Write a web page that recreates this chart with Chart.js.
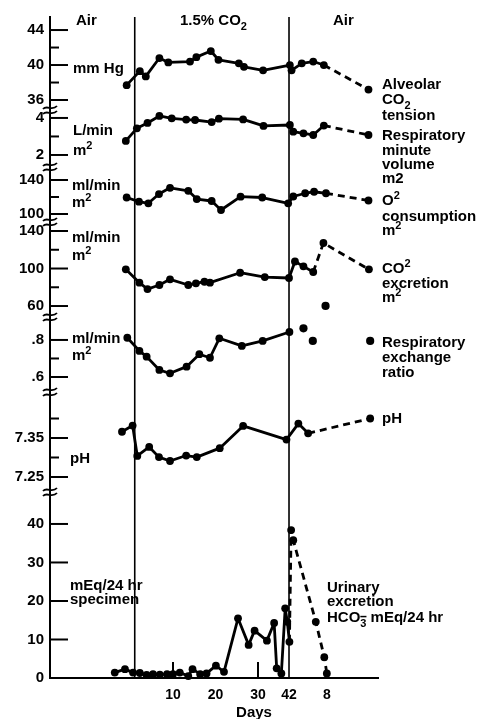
<!DOCTYPE html>
<html><head><meta charset="utf-8">
<script src="https://cdn.jsdelivr.net/npm/chart.js@4/dist/chart.umd.min.js"></script>
<style>html,body{margin:0;padding:0;background:#fff}canvas{display:block}</style>
</head><body>
<canvas id="c" width="477" height="719"></canvas>
<script>
// ---- Data (x = position on the Days axis) ----
const phaseBoundaries = [1, 37.3];
const xTickValues = [10, 20, 30, 37.3, 46.2];
const xTickLabels = ['10', '20', '30', '42', '8'];
const xMarkTicks = [10, 30];

// Alveolar CO2 tension (mm Hg)
const alvX = [-0.9, 2.2, 3.6, 6.8, 8.9, 14.0, 15.5, 18.9, 20.7, 25.5, 26.7, 31.2, 37.5, 37.9, 40.3, 43.0, 45.5, 56.0];
const alvY = [37.7, 39.3, 38.7, 40.8, 40.3, 40.4, 40.9, 41.6, 40.6, 40.2, 39.8, 39.4, 40.0, 39.4, 40.2, 40.4, 40.0, 37.2];
const alvTicks = [36, 38, 40, 42, 44];
const alvTickLabels = ['36', '', '40', '', '44'];

// Respiratory minute volume (L/min m2)
const volX = [-1.1, 1.5, 4.0, 6.8, 9.7, 13.1, 15.2, 19.1, 20.8, 26.5, 31.3, 37.5, 38.3, 40.7, 43.0, 45.5, 56.0];
const volY = [2.76, 3.44, 3.73, 4.11, 3.98, 3.91, 3.89, 3.78, 3.96, 3.92, 3.57, 3.62, 3.26, 3.17, 3.08, 3.59, 3.08];
const volTicks = [2, 3, 4];
const volTickLabels = ['2', '', '4'];

// O2 consumption (ml/min m2)
const o2X = [-0.9, 2.0, 4.2, 6.7, 9.3, 13.6, 15.6, 19.1, 21.3, 25.9, 31.0, 37.1, 38.3, 41.1, 43.2, 46.0, 56.0];
const o2Y = [119.4, 114.5, 112.6, 123.5, 130.8, 127.3, 117.6, 115.3, 104.7, 120.4, 119.4, 112.6, 120.6, 124.4, 126.2, 124.4, 115.9];
const o2Ticks = [100, 120, 140];
const o2TickLabels = ['100', '', '140'];

// CO2 excretion (ml/min m2)
const co2X = [-1.1, 2.1, 4.0, 6.8, 9.3, 13.6, 15.4, 17.4, 18.7, 25.8, 31.6, 37.3, 38.7, 40.7, 43.0, 45.4, 56.1];
const co2Y = [99.1, 84.9, 78.1, 82.4, 88.5, 82.4, 84.2, 85.9, 84.9, 95.5, 90.9, 89.9, 107.5, 102.3, 96.3, 127.2, 99.1];
const co2Ticks = [60, 80, 100, 120, 140];
const co2TickLabels = ['60', '', '100', '', '140'];

// Respiratory exchange ratio
const rX = [-0.75, 2.1, 3.8, 6.8, 9.3, 13.2, 16.2, 18.7, 20.9, 26.2, 31.1, 37.4];
const rY = [0.812, 0.741, 0.710, 0.638, 0.620, 0.656, 0.723, 0.704, 0.809, 0.768, 0.795, 0.843];
const rDotX = [40.7, 42.9, 45.9, 56.4];
const rDotY = [0.863, 0.795, 0.984, 0.795];
const rTicks = [0.6, 0.7, 0.8];
const rTickLabels = ['.6', '', '.8'];

// pH
const phX = [-2.0, 0.5, 1.6, 4.4, 6.7, 9.3, 13.1, 15.6, 21.0, 26.5, 36.7, 39.5, 41.8, 56.4];
const phY = [7.366, 7.382, 7.304, 7.327, 7.301, 7.291, 7.305, 7.301, 7.324, 7.381, 7.346, 7.387, 7.362, 7.400];
const phTicks = [7.25, 7.30, 7.35, 7.40];
const phTickLabels = ['7.25', '', '7.35', ''];

// Urinary excretion HCO3 (mEq/24 hr)
const urX = [-3.7, -1.3, 0.6, 2.2, 3.8, 5.3, 6.9, 8.6, 10.0, 11.6, 13.6, 14.6, 16.4, 17.9, 20.1, 22.0, 25.3, 27.8, 29.2, 32.1, 33.8, 34.4, 35.5, 36.4, 36.9, 37.4, 37.8, 38.3, 43.6, 45.6, 46.2];
const urY = [1.4, 2.3, 1.4, 1.3, 0.8, 1.0, 0.9, 1.0, 1.0, 1.4, 0.5, 2.3, 1.0, 1.2, 3.2, 1.6, 15.5, 8.6, 12.3, 9.7, 14.3, 2.5, 1.2, 18.1, 14.6, 9.4, 38.4, 35.8, 14.6, 5.4, 1.2];
const urTicks = [0, 10, 20, 30, 40];
const urTickLabels = ['0', '10', '20', '30', '40'];

// ---- Rendering ----
const FONT = '"Liberation Sans", Arial, Helvetica, sans-serif';
Chart.defaults.font.family = FONT;

function series(xs, ys, axis, dashFrom, extra) {
  return Object.assign({
    type: 'line',
    data: xs.map((x, i) => ({ x: x, y: ys[i] })),
    yAxisID: axis,
    borderColor: '#000', backgroundColor: '#000', borderWidth: 2.8,
    borderJoinStyle: 'round', borderCapStyle: 'butt',
    pointRadius: 3.9, pointHoverRadius: 3.9, pointBackgroundColor: '#000', pointBorderWidth: 0,
    tension: 0, fill: false, clip: false,
    segment: { borderDash: c => (dashFrom != null && c.p0DataIndex >= dashFrom) ? [7, 5] : undefined }
  }, extra || {});
}

function yScale(min, max, weight, tickVals, tickLabels) {
  return {
    type: 'linear', position: 'left', stack: 'panels', stackWeight: weight, min: min, max: max,
    afterBuildTicks: s => { s.ticks = tickVals.map(v => ({ value: v })); },
    ticks: { autoSkip: false, callback: (v, i) => tickLabels[i], font: { size: 15, weight: 'bold' }, color: '#000', padding: 6 },
    grid: { display: false, drawTicks: false },
    border: { display: true, color: '#000', width: 2 },
    afterFit: s => { s.width = 50; }
  };
}

function setFont(ctx, size) { ctx.font = 'bold ' + size + 'px ' + FONT; }
function drawRich(ctx, x, y, parts, size, align) {
  const pieces = parts.map(p => typeof p === 'string' ? [p, 'n'] : p);
  let total = 0;
  for (const [t, k] of pieces) { setFont(ctx, k === 'n' ? size : Math.round(size * 0.7)); total += ctx.measureText(t).width; }
  let cx = align === 'center' ? x - total / 2 : x;
  const baseline = y + size * 0.36;
  ctx.textAlign = 'left'; ctx.textBaseline = 'alphabetic'; ctx.fillStyle = '#000';
  for (const [t, k] of pieces) {
    const s = k === 'n' ? size : Math.round(size * 0.7);
    setFont(ctx, s);
    let by = baseline;
    if (k === 'sup') by -= size * 0.42;
    if (k === 'sub' || k === 'subbar') by += size * 0.28;
    ctx.fillText(t, cx, by);
    const w = ctx.measureText(t).width;
    if (k === 'subbar') ctx.fillRect(cx, by - s * 0.98, w, 1.5);
    cx += w;
  }
}

const textLabels = [
  { x: 76, y: 20, t: ['Air'] },
  { x: 180, y: 20, t: ['1.5% CO', ['2', 'sub']] },
  { x: 333, y: 20, t: ['Air'] },
  { x: 73, y: 68, t: ['mm Hg'] },
  { x: 73, y: 130, t: ['L/min'] },
  { x: 73, y: 150, t: ['m', ['2', 'sup']] },
  { x: 72, y: 185, t: ['ml/min'] },
  { x: 72, y: 202, t: ['m', ['2', 'sup']] },
  { x: 72, y: 237, t: ['ml/min'] },
  { x: 72, y: 255, t: ['m', ['2', 'sup']] },
  { x: 72, y: 338, t: ['ml/min'] },
  { x: 72, y: 355, t: ['m', ['2', 'sup']] },
  { x: 70, y: 458, t: ['pH'] },
  { x: 70, y: 585, t: ['mEq/24 hr'] },
  { x: 70, y: 599, t: ['specimen'] },
  { x: 382, y: 84, t: ['Alveolar'] },
  { x: 382, y: 99, t: ['CO', ['2', 'sub']] },
  { x: 382, y: 115, t: ['tension'] },
  { x: 382, y: 135, t: ['Respiratory'] },
  { x: 382, y: 150, t: ['minute'] },
  { x: 382, y: 164, t: ['volume'] },
  { x: 382, y: 178, t: ['m2'] },
  { x: 382, y: 200, t: ['O', ['2', 'sup']] },
  { x: 382, y: 216, t: ['consumption'] },
  { x: 382, y: 230, t: ['m', ['2', 'sup']] },
  { x: 382, y: 268, t: ['CO', ['2', 'sup']] },
  { x: 382, y: 283, t: ['excretion'] },
  { x: 382, y: 297, t: ['m', ['2', 'sup']] },
  { x: 382, y: 342, t: ['Respiratory'] },
  { x: 382, y: 357, t: ['exchange'] },
  { x: 382, y: 372, t: ['ratio'] },
  { x: 382, y: 418, t: ['pH'] },
  { x: 327, y: 587, t: ['Urinary'] },
  { x: 327, y: 601, t: ['excretion'] },
  { x: 327, y: 617, t: ['HCO', ['3', 'subbar'], ' mEq/24 hr'] }
];

const yIds = ['yUrine', 'yPH', 'yR', 'yCO2', 'yO2', 'yVol', 'yAlv'];

const decor = {
  id: 'decor',
  beforeDatasetsDraw(chart) {
    const { ctx, chartArea: a, scales } = chart;
    const line = (x1, y1, x2, y2) => { ctx.beginPath(); ctx.moveTo(x1, y1); ctx.lineTo(x2, y2); ctx.stroke(); };
    ctx.save();
    ctx.strokeStyle = '#000';
    ctx.lineWidth = 1.6;
    for (const v of phaseBoundaries) {
      const px = scales.x.getPixelForValue(v);
      line(px, a.top, px, a.bottom);
    }
    ctx.lineWidth = 2;
    for (const id of yIds) {
      const s = scales[id];
      s.ticks.forEach(t => {
        const py = s.getPixelForValue(t.value);
        const long = t.label !== '' && t.label != null;
        line(a.left, py, a.left + (long ? 18 : 9), py);
      });
    }
    for (const v of xMarkTicks) {
      const px = scales.x.getPixelForValue(v);
      line(px, a.bottom, px, a.bottom - 16);
    }
    ctx.lineWidth = 1.8;
    for (const id of yIds) {
      if (id === 'yUrine') continue;
      const yb = scales[id].bottom;
      for (const dy of [-2.5, 2.5]) {
        ctx.beginPath();
        ctx.moveTo(a.left - 7, yb + dy + 1.5);
        ctx.bezierCurveTo(a.left - 3, yb + dy - 3, a.left + 2, yb + dy + 4, a.left + 7, yb + dy - 1.5);
        ctx.stroke();
      }
    }
    ctx.restore();
  },
  afterDraw(chart) {
    const ctx = chart.ctx;
    ctx.save();
    for (const l of textLabels) drawRich(ctx, l.x, l.y, l.t, 15, 'left');
    drawRich(ctx, 254, 712, ['Days'], 15, 'center');
    ctx.restore();
  }
};

new Chart(document.getElementById('c'), {
  type: 'line',
  data: {
    datasets: [
      series(urX, urY, 'yUrine', 25),
      series(phX, phY, 'yPH', 12),
      series(rX, rY, 'yR', null),
      series(rDotX, rDotY, 'yR', null, { showLine: false, pointRadius: 4.1 }),
      series(co2X, co2Y, 'yCO2', 14),
      series(o2X, o2Y, 'yO2', 15),
      series(volX, volY, 'yVol', 15),
      series(alvX, alvY, 'yAlv', 16)
    ]
  },
  options: {
    responsive: false, animation: false, devicePixelRatio: 1, events: [],
    layout: { padding: { top: 17, right: 99, left: 0, bottom: 0 } },
    plugins: { legend: { display: false }, tooltip: { enabled: false } },
    scales: {
      x: {
        type: 'linear', min: -18.94, max: 58.24,
        afterBuildTicks: s => { s.ticks = xTickValues.map(v => ({ value: v })); },
        ticks: { autoSkip: false, maxRotation: 0, callback: (v, i) => xTickLabels[i], font: { size: 14, weight: 'bold' }, color: '#000', padding: 9 },
        grid: { display: false, drawTicks: false },
        border: { display: true, color: '#000', width: 2 },
        afterFit: s => { s.height = 41; }
      },
      yUrine: yScale(0, 48.3, 186, urTicks, urTickLabels),
      yPH: yScale(7.2115, 7.468, 100, phTicks, phTickLabels),
      yR: yScale(0.519, 0.924, 75, rTicks, rTickLabels),
      yCO2: yScale(48.3, 149.6, 95, co2Ticks, co2TickLabels),
      yO2: yScale(90.6, 155.3, 55, o2Ticks, o2TickLabels),
      yVol: yScale(1.35, 4.43, 57, volTicks, volTickLabels),
      yAlv: yScale(34.86, 45.49, 93, alvTicks, alvTickLabels)
    }
  },
  plugins: [decor]
});
</script></body></html>
